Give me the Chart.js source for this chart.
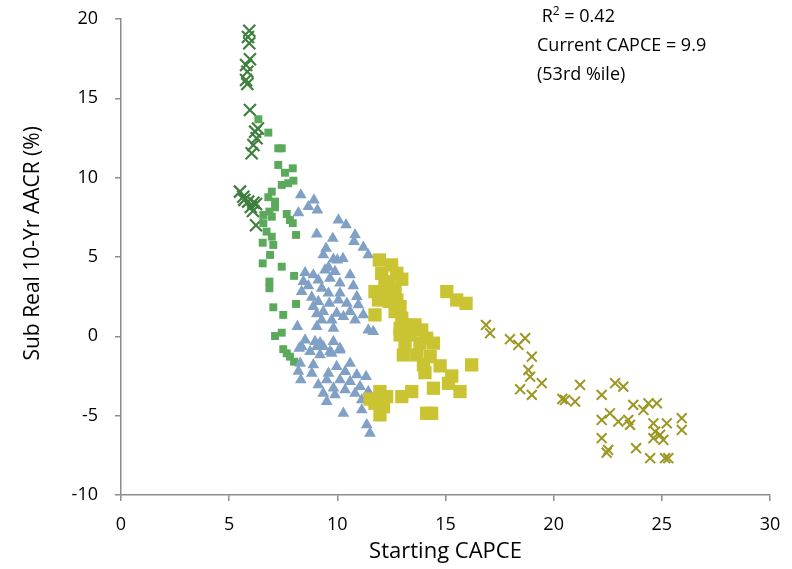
<!DOCTYPE html>
<html>
<head>
<meta charset="utf-8">
<script src="https://cdn.jsdelivr.net/npm/chart.js@4/dist/chart.umd.min.js"></script>
<style>
html,body{margin:0;padding:0;background:#fff;}
#wrap{position:relative;width:792px;height:569px;}
#note{position:absolute;left:537px;top:1px;font-family:"Open Sans","Noto Sans",sans-serif;font-size:18px;line-height:29px;color:#000;}
#note sup{font-size:12px;line-height:0;vertical-align:7px;}
</style>
</head>
<body>
<div id="wrap">
<canvas id="c" width="792" height="569"></canvas>
<div id="note">&nbsp;R<sup>2</sup> = 0.42<br>Current CAPCE = 9.9<br>(53rd %ile)</div>
</div>
<script>
// Axis ticks
const xTicks = [0, 5, 10, 15, 20, 25, 30];
const yTicks = [-10, -5, 0, 5, 10, 15, 20];

// Series 1: dark green crosses
const s1x = [5.93,5.87,5.93,5.96,5.78,5.84,5.78,5.84,5.96,6.20,6.27,6.12,6.04,6.33,5.50,5.65,5.88,6.12,6.24,6.00,6.24,6.10,5.70];
const s1y = [19.26,18.87,18.47,17.46,17.10,16.68,16.16,15.90,14.27,12.90,12.48,12.06,11.54,13.10,9.12,8.80,8.49,8.42,8.34,8.15,7.00,7.90,8.60];

// Series 2: green small squares
const s2x = [6.35,6.81,7.27,7.43,7.27,7.58,7.94,7.73,7.97,7.43,6.97,6.81,7.12,7.12,6.86,6.58,6.97,7.66,7.81,7.94,8.09,6.58,6.73,6.55,6.97,7.04,6.89,6.55,7.43,8.00,6.86,6.86,8.09,7.04,7.50,7.43,7.12,7.50,7.66,7.81,8.00];
const s2y = [13.68,12.84,11.85,11.85,10.80,10.31,10.59,9.65,9.81,9.54,9.12,8.77,8.49,8.13,7.86,7.65,7.54,7.71,7.33,7.13,6.39,7.13,6.60,5.90,6.28,5.76,5.13,4.60,4.39,3.81,3.45,3.03,2.04,1.83,1.35,0.23,0.02,-0.81,-1.07,-1.28,-1.60];

// Series 3: blue triangles
const s3x = [8.31,8.92,8.66,9.08,8.20,10.05,10.40,10.82,9.05,9.79,10.77,11.20,11.43,9.48,9.35,9.82,10.00,9.59,8.51,8.89,9.43,9.89,10.59,9.12,9.66,8.43,8.66,10.12,10.74,9.28,8.35,9.59,10.12,10.90,8.82,9.12,10.05,10.44,10.97,8.89,9.63,9.97,9.35,10.59,9.05,11.20,9.28,9.74,10.82,10.28,8.15,9.05,9.82,11.43,11.66,8.51,8.97,9.20,9.82,8.35,9.05,10.12,8.74,9.66,9.20,9.35,9.74,10.59,9.97,8.28,8.89,8.82,9.59,10.36,10.90,11.33,8.31,9.51,10.12,10.59,9.12,11.05,9.82,10.36,9.35,10.82,11.43,9.51,11.13,9.89,11.13,10.28,11.36,11.51,8.20,10.12,8.24,10.26];
const s3y = [8.91,8.59,8.17,7.96,7.79,7.33,7.02,6.39,6.45,6.18,5.97,5.61,5.13,5.55,5.13,4.86,4.81,4.35,4.01,3.87,4.18,4.08,3.87,3.55,3.66,3.45,3.18,3.35,3.18,3.03,2.82,2.72,2.72,2.50,2.46,2.19,2.29,2.08,1.98,1.87,2.08,1.45,1.56,1.56,1.41,1.35,1.03,1.03,1.03,1.24,0.61,0.61,0.51,0.40,0.30,-0.23,-0.33,-0.40,-0.33,-0.65,-0.65,-0.75,-0.96,-0.96,-1.17,-0.65,-1.07,-1.70,-1.91,-1.70,-1.80,-2.33,-2.33,-2.22,-2.43,-2.54,-2.75,-2.75,-2.75,-2.85,-3.06,-3.17,-3.27,-3.38,-3.59,-3.59,-3.48,-4.11,-4.01,-3.69,-4.64,-4.85,-5.58,-6.11,-2.20,-0.86,-0.75,4.90];

// Series 4: yellow squares
const s4x = [11.94,12.51,12.05,12.75,12.98,12.36,11.74,12.28,12.67,11.90,12.75,12.90,11.74,12.67,12.98,13.05,13.59,12.90,13.36,13.90,14.13,14.44,13.13,13.82,13.05,13.67,14.29,13.98,14.75,14.05,15.29,15.14,15.67,15.06,15.52,15.95,16.21,14.44,13.44,12.98,11.97,12.28,11.74,12.13,11.97,14.13,14.36,11.51,12.20,12.40,12.90];
const s4y = [4.81,4.50,3.97,3.97,3.60,3.45,2.82,2.82,2.92,2.29,2.29,1.87,1.35,1.56,1.14,0.72,0.72,0.09,0.09,0.40,-0.12,-0.43,-0.54,-0.43,-1.17,-1.17,-1.28,-1.80,-1.86,-2.29,-2.50,-2.96,-3.48,2.82,2.29,2.08,-1.80,-3.27,-3.48,-3.80,-3.48,-3.80,-4.22,-4.43,-4.95,-4.85,-4.85,-3.95,3.20,2.20,0.50];

// Series 5: olive crosses
const s5x = [16.87,17.06,17.98,18.68,18.37,18.99,18.83,18.91,19.45,18.45,18.99,20.53,20.99,21.22,20.40,22.84,23.22,22.22,23.68,24.38,24.77,24.15,22.60,22.22,23.45,22.99,23.53,24.61,25.23,25.92,25.92,24.69,24.92,25.07,22.22,24.61,22.52,22.45,23.81,24.46,25.15,25.30];
const s5y = [0.72,0.20,-0.18,-0.12,-0.54,-1.28,-2.12,-2.54,-2.95,-3.33,-3.69,-4.01,-4.11,-3.06,-3.95,-2.95,-3.17,-3.69,-4.32,-4.22,-4.22,-4.64,-4.85,-5.27,-5.27,-5.37,-5.58,-5.48,-5.48,-5.16,-5.90,-6.00,-6.21,-6.53,-6.42,-6.42,-7.16,-7.33,-7.05,-7.68,-7.68,-7.68];

const pts = (xs, ys) => xs.map((x, i) => ({x: x, y: ys[i]}));

const FONT = '"Open Sans", "Noto Sans", sans-serif';
const AXIS = '#8c8c8c';

new Chart(document.getElementById('c'), {
  type: 'scatter',
  data: {
    datasets: [
      {label: 'S1', data: pts(s1x, s1y), pointStyle: 'crossRot', pointRadius: 8.5, borderColor: '#3f7f3f', backgroundColor: '#3f7f3f', borderWidth: 2.2, order: 4},
      {label: 'S2', data: pts(s2x, s2y), pointStyle: 'rect', pointRadius: 5.6, borderColor: '#5ba95b', backgroundColor: '#5ba95b', borderWidth: 0, order: 3},
      {label: 'S3', data: pts(s3x, s3y), pointStyle: 'triangle', pointRadius: 6.8, borderColor: '#81a0c6', backgroundColor: '#81a0c6', borderWidth: 0, order: 2},
      {label: 'S4', data: pts(s4x, s4y), pointStyle: 'rect', pointRadius: 9.4, borderColor: '#cbc432', backgroundColor: '#cbc432', borderWidth: 0, order: 1},
      {label: 'S5', data: pts(s5x, s5y), pointStyle: 'crossRot', pointRadius: 7, borderColor: '#9b9720', backgroundColor: '#9b9720', borderWidth: 2, order: 0}
    ]
  },
  options: {
    responsive: false,
    animation: false,
    events: [],
    layout: {padding: {top: 19, right: 22, left: 0, bottom: 0}},
    plugins: {legend: {display: false}, tooltip: {enabled: false}},
    scales: {
      x: {
        type: 'linear', min: 0, max: 30,
        afterBuildTicks: s => { s.ticks = xTicks.map(v => ({value: v})); },
        afterFit: s => { s.height = 74; s.paddingLeft = 0; s.paddingRight = 0; },
        grid: {display: true, drawOnChartArea: false, drawTicks: true, tickLength: 6, color: AXIS, lineWidth: 1.5},
        border: {display: true, color: AXIS, width: 1.5},
        ticks: {color: '#000', font: {family: FONT, size: 18}, padding: 13, maxRotation: 0},
        title: {display: true, text: 'Starting CAPCE', color: '#000', font: {family: FONT, size: 22}, padding: {top: 0, bottom: 4}}
      },
      y: {
        type: 'linear', min: -10, max: 20,
        afterBuildTicks: s => { s.ticks = yTicks.map(v => ({value: v})); },
        afterFit: s => { s.width = 121; s.paddingTop = 0; s.paddingBottom = 0; },
        grid: {display: true, drawOnChartArea: false, drawTicks: true, tickLength: 6, color: AXIS, lineWidth: 1.5},
        border: {display: true, color: AXIS, width: 1.5},
        ticks: {color: '#000', font: {family: FONT, size: 18}, padding: 17},
        title: {display: true, text: '     Sub Real 10-Yr AACR (%)', color: '#000', font: {family: FONT, size: 21}, padding: {top: 20, bottom: 0}}
      }
    }
  }
});
</script>
</body>
</html>
